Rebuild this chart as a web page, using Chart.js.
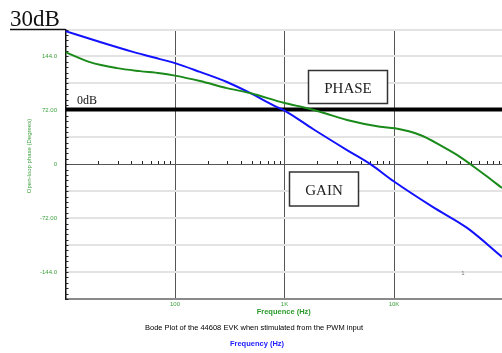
<!DOCTYPE html>
<html>
<head>
<meta charset="utf-8">
<title>Bode Plot</title>
<script src="https://cdn.jsdelivr.net/npm/chart.js@4"></script>
<style>
  html, body { margin: 0; padding: 0; background: #fff; }
  canvas { display: block; }
</style>
</head>
<body>
<canvas id="bodeChart" width="502" height="353"></canvas>
<script>
// Phase curve (green), in degrees
const phaseFreq = [10, 16.7, 29.5, 47.9, 72.9, 100, 169, 298, 484, 1000, 1385, 2110, 3720, 7450, 10200, 17300, 26300, 37600, 49400, 67700, 96800];
const phaseDeg = [149.7, 136.4, 128.4, 124.4, 121.7, 118.4, 111.1, 101.7, 95.1, 81.7, 77.1, 70.1, 59.1, 50.1, 48.0, 39.1, 25.7, 12.4, 0.4, -14.3, -31.7];

// Gain curve (blue), in dB
const gainFreq = [10, 20.7, 41.3, 72.9, 100, 169, 298, 484, 854, 1000, 1820, 3720, 6040, 10000, 22700, 46500, 96800];
const gainDb = [29.4, 25.3, 21.6, 18.9, 17.4, 14.1, 10.3, 6.2, 0.9, -0.4, -7.3, -15.2, -20.4, -27.0, -36.6, -44.4, -55.3];

// 0dB reference line
const refFreq = [10, 96800];
const refDb = [0, 0];

// Tick labels
const phaseTickValues = [144, 72, 0, -72, -144];
const phaseTickLabels = ['144.0', '72.00', '0', '-72.00', '-144.0'];
const freqTickValues = [100, 1000, 10000];
const freqTickLabels = ['100', '1K', '10K'];

const GREEN = '#1a8a1a';
const TICK_GREEN = '#3a9f3a';
const BLUE = '#1212ff';
const SANS = '"Liberation Sans", Arial, sans-serif';
const SERIF = '"Liberation Serif", "Times New Roman", serif';

function toPoints(xs, ys) {
    return xs.map((x, i) => ({ x: x, y: ys[i] }));
}

function drawBox(ctx, x, y, w, h, text, baseline) {
    ctx.fillStyle = '#fff';
    ctx.fillRect(x, y, w, h);
    ctx.strokeStyle = '#333';
    ctx.lineWidth = 1.5;
    ctx.strokeRect(x, y, w, h);
    ctx.fillStyle = '#222';
    ctx.font = '15px ' + SERIF;
    ctx.textAlign = 'center';
    ctx.textBaseline = 'alphabetic';
    ctx.fillText(text, x + w / 2, baseline);
}

// Minor ticks on the left axis and along the 0 degree line
const minorTicks = {
    id: 'minorTicks',
    beforeDatasetsDraw(chart) {
        const { ctx, chartArea: area, scales } = chart;
        const x = scales.x, y = scales.y;
        ctx.save();
        ctx.strokeStyle = '#222';
        ctx.lineWidth = 1;
        ctx.beginPath();
        for (let k = 0; k <= 50; k++) {
            const py = Math.round(y.getPixelForValue(-180 + 7.2 * k)) + 0.5;
            ctx.moveTo(area.left, py);
            ctx.lineTo(area.left + 3, py);
        }
        const zy = Math.round(y.getPixelForValue(0));
        for (let dec = 10; dec < 100000; dec *= 10) {
            for (let m = 2; m <= 9; m++) {
                const px = Math.round(x.getPixelForValue(dec * m)) + 0.5;
                if (px < area.right) {
                    ctx.moveTo(px, zy);
                    ctx.lineTo(px, zy - 3);
                }
            }
        }
        ctx.stroke();
        ctx.restore();
    }
};

// Labels, boxes and captions
const annotations = {
    id: 'annotations',
    afterDatasetsDraw(chart) {
        const { ctx, chartArea: area } = chart;
        const gain = chart.scales.gain;
        ctx.save();

        ctx.fillStyle = '#111';
        ctx.font = '23px ' + SERIF;
        ctx.textAlign = 'left';
        ctx.textBaseline = 'alphabetic';
        ctx.fillText('30dB', 10, 25.5);
        ctx.strokeStyle = '#111';
        ctx.lineWidth = 1.5;
        ctx.beginPath();
        ctx.moveTo(10, area.top);
        ctx.lineTo(area.left, area.top);
        ctx.stroke();

        ctx.font = '12px ' + SERIF;
        ctx.fillText('0dB', 77, gain.getPixelForValue(0) - 5.5);

        drawBox(ctx, 308.5, 70.5, 79, 33, 'PHASE', 92.5);
        drawBox(ctx, 289.5, 172, 69, 34, 'GAIN', 194.5);

        ctx.fillStyle = '#777';
        ctx.font = '6px ' + SANS;
        ctx.textAlign = 'center';
        ctx.textBaseline = 'middle';
        ctx.fillText('1', 463, 273);
        ctx.restore();
    },
    afterDraw(chart) {
        const ctx = chart.ctx;
        ctx.save();
        ctx.translate(29.5, 156);
        ctx.rotate(-Math.PI / 2);
        ctx.textAlign = 'center';
        ctx.textBaseline = 'middle';
        ctx.fillStyle = TICK_GREEN;
        ctx.font = '6px ' + SANS;
        ctx.fillText('Open-loop phase (Degrees)', 0, 0);
        ctx.restore();

        ctx.save();
        ctx.textAlign = 'center';
        ctx.textBaseline = 'middle';
        ctx.fillStyle = '#000';
        ctx.font = '7.5px ' + SANS;
        ctx.fillText('Bode Plot of the 44608 EVK when stimulated from the PWM input', 254, 327.5);
        ctx.fillStyle = '#2020ff';
        ctx.font = 'bold 7.5px ' + SANS;
        ctx.fillText('Frequency (Hz)', 257, 344);
        ctx.restore();
    }
};

const ctx = document.getElementById('bodeChart').getContext('2d');
window.bodeChart = new Chart(ctx, {
    type: 'line',
    data: {
        datasets: [{
            label: 'Phase',
            data: toPoints(phaseFreq, phaseDeg),
            yAxisID: 'y',
            borderColor: GREEN,
            borderWidth: 2,
            pointRadius: 0,
            cubicInterpolationMode: 'monotone',
            order: 1
        }, {
            label: 'Gain',
            data: toPoints(gainFreq, gainDb),
            yAxisID: 'gain',
            borderColor: BLUE,
            borderWidth: 2,
            pointRadius: 0,
            cubicInterpolationMode: 'monotone',
            order: 2
        }, {
            label: '0dB',
            data: toPoints(refFreq, refDb),
            yAxisID: 'gain',
            borderColor: '#000',
            borderWidth: 4,
            pointRadius: 0,
            order: 3
        }]
    },
    options: {
        responsive: false,
        animation: false,
        layout: { padding: { top: 29.5, left: 0, right: 0, bottom: 0 } },
        plugins: {
            legend: { display: false },
            tooltip: { enabled: false }
        },
        scales: {
            x: {
                type: 'logarithmic',
                position: 'bottom',
                min: 10,
                max: 96800,
                afterBuildTicks(scale) {
                    scale.ticks = freqTickValues.map(v => ({ value: v }));
                },
                afterFit(scale) { scale.height = 54; },
                ticks: {
                    autoSkip: false,
                    maxRotation: 0,
                    padding: 1.5,
                    color: TICK_GREEN,
                    font: { family: SANS, size: 6 },
                    callback(value) {
                        const i = freqTickValues.indexOf(value);
                        return i >= 0 ? freqTickLabels[i] : '';
                    }
                },
                grid: { drawTicks: false, color: '#555', lineWidth: 1 },
                border: { color: '#8a8a8a', width: 2 },
                title: {
                    display: true,
                    text: 'Frequence (Hz)',
                    color: '#2a9a2a',
                    font: { family: SANS, size: 7.5, weight: 'bold' },
                    padding: { top: 0, bottom: 36.5 }
                }
            },
            y: {
                type: 'linear',
                position: 'left',
                min: -180,
                max: 180,
                afterFit(scale) { scale.width = 65.5; },
                ticks: {
                    stepSize: 36,
                    autoSkip: false,
                    padding: 8.5,
                    color: TICK_GREEN,
                    font: { family: SANS, size: 6 },
                    callback(value) {
                        const i = phaseTickValues.indexOf(value);
                        return i >= 0 ? phaseTickLabels[i] : '';
                    }
                },
                grid: {
                    drawTicks: false,
                    color: c => (c.tick && c.tick.value === 0) ? '#555' : '#e3e3e3',
                    lineWidth: c => (c.tick && c.tick.value === 0) ? 1 : 2
                },
                border: { color: '#111', width: 1.5 }
            },
            gain: {
                type: 'linear',
                display: false,
                min: -71.05,
                max: 30
            }
        }
    },
    plugins: [minorTicks, annotations]
});
</script>
</body>
</html>
